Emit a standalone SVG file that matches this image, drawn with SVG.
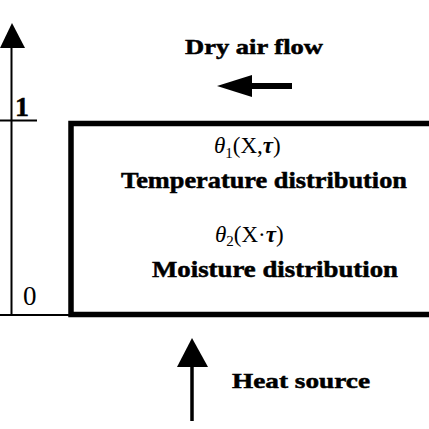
<svg xmlns="http://www.w3.org/2000/svg" width="429" height="429" viewBox="0 0 429 429">
<style>
.b{font-family:"Liberation Serif","Times New Roman",serif;font-weight:bold;fill:#000;stroke:#000;stroke-width:0.5}
.r{font-family:"Liberation Serif","Times New Roman",serif;fill:#000}
.ln{stroke:#000;fill:none}
</style>
<rect width="429" height="429" fill="#fff"/>
<g id="connectors">
  <line class="ln" x1="11.5" y1="46" x2="11.5" y2="316" stroke-width="2"/>
  <polygon points="12,23 0,48 25,48" fill="#000"/>
  <line class="ln" x1="0" y1="120.5" x2="37" y2="120.5" stroke-width="2"/>
  <line class="ln" x1="0" y1="315" x2="70" y2="315" stroke-width="2"/>
  <line class="ln" x1="250" y1="86" x2="292" y2="86" stroke-width="6"/>
  <polygon points="217,86 252,75 252,97" fill="#000"/>
  <line class="ln" x1="192" y1="365" x2="192" y2="421" stroke-width="3.5"/>
  <polygon points="192,338 177,367 208,367" fill="#000"/>
</g>
<g id="axis-labels">
  <text class="b" x="15" y="116" font-size="28">1</text>
  <text class="r" x="23" y="305" font-size="27">0</text>
</g>
<g id="dry-air">
  <text class="b" x="185" y="54" font-size="21" textLength="138" lengthAdjust="spacingAndGlyphs">Dry air flow</text>
</g>
<g id="box">
  <path class="ln" d="M429,123.5 H71 V314.5 H429" stroke-width="5.5"/>
  <text class="r" x="214" y="153" font-size="23"><tspan font-style="italic">θ</tspan><tspan font-size="15" dy="5">1</tspan><tspan dy="-5">(X,</tspan><tspan font-style="italic" font-weight="bold">τ</tspan><tspan>)</tspan></text>
  <text class="b" x="121" y="188" font-size="23" textLength="286" lengthAdjust="spacingAndGlyphs">Temperature  distribution</text>
  <text class="r" x="215" y="242" font-size="23"><tspan font-style="italic">θ</tspan><tspan font-size="15" dy="4">2</tspan><tspan dy="-4">(X·</tspan><tspan font-style="italic" font-weight="bold">τ</tspan><tspan>)</tspan></text>
  <text class="b" x="152" y="277" font-size="23" textLength="246" lengthAdjust="spacingAndGlyphs">Moisture  distribution</text>
</g>
<g id="heat">
  <text class="b" x="232" y="388" font-size="22" textLength="138" lengthAdjust="spacingAndGlyphs">Heat source</text>
</g>
</svg>
